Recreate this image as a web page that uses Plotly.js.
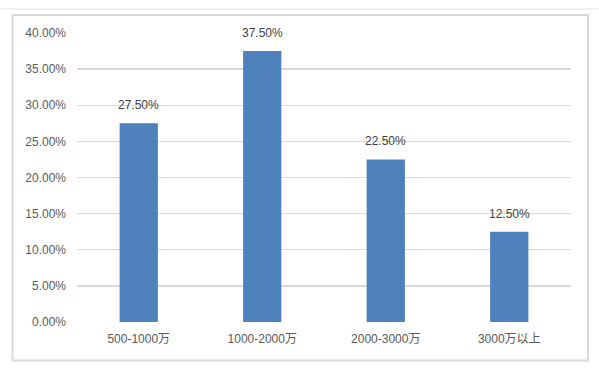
<!DOCTYPE html>
<html>
<head>
<meta charset="utf-8">
<script src="https://cdn.plot.ly/plotly-3.0.1.min.js"></script>
<style>html,body{margin:0;padding:0;background:#fff;}#chart{width:599px;height:368px;}</style>
</head>
<body>
<div id="chart"></div>
<script>
const categories = ["500-1000万", "1000-2000万", "2000-3000万", "3000万以上"];
const shares = [0.275, 0.375, 0.225, 0.125];
const tickValues = [0, 0.05, 0.10, 0.15, 0.20, 0.25, 0.30, 0.35, 0.40];
const tickLabels = ["0.00%", "5.00%", "10.00%", "15.00%", "20.00%", "25.00%", "30.00%", "35.00%", "40.00%"];

const FONT = "Liberation Sans, Arial, Noto Sans CJK SC, sans-serif";

const trace = {
  type: "bar",
  x: categories,
  y: shares,
  marker: {color: "#4F81BD"},
  hoverinfo: "none"
};

const annotations = categories.map((c, i) => ({
  x: c, y: shares[i], xref: "x", yref: "y",
  text: (shares[i] * 100).toFixed(2) + "%",
  showarrow: false, yanchor: "middle", yshift: 18,
  font: {family: FONT, size: 12, color: "#404040"}
}));

const layout = {
  width: 599, height: 368,
  margin: {l: 77, r: 28, t: 33, b: 45.5},
  paper_bgcolor: "#ffffff", plot_bgcolor: "#ffffff",
  bargap: 0.69,
  showlegend: false,
  font: {family: FONT, size: 12, color: "#595959"},
  xaxis: {
    type: "category",
    showgrid: false, zeroline: false, showline: false,
    ticks: "", ticklabelstandoff: 8,
    tickfont: {family: FONT, size: 12, color: "#595959"}
  },
  yaxis: {
    range: [0, 0.40],
    tickvals: tickValues, ticktext: tickLabels,
    showgrid: true, gridcolor: "#d9d9d9", gridwidth: 1.3,
    zeroline: false, showline: false, ticks: "",
    ticklabelstandoff: 10,
    tickfont: {family: FONT, size: 12, color: "#595959"}
  },
  annotations: annotations,
  shapes: [
    {type: "rect", xref: "paper", yref: "paper", x0: -0.1306, x1: 1.0344, y0: -0.133, y1: 1.0622,
     line: {color: "#d9d9d9", width: 2}, layer: "below"},
    {type: "line", xref: "paper", yref: "paper", x0: -0.2, x1: 1.2, y0: 1.083, y1: 1.083,
     line: {color: "#e3e3e3", width: 1}}
  ]
};

Plotly.newPlot("chart", [trace], layout, {staticPlot: true, displayModeBar: false});
</script>
</body>
</html>
